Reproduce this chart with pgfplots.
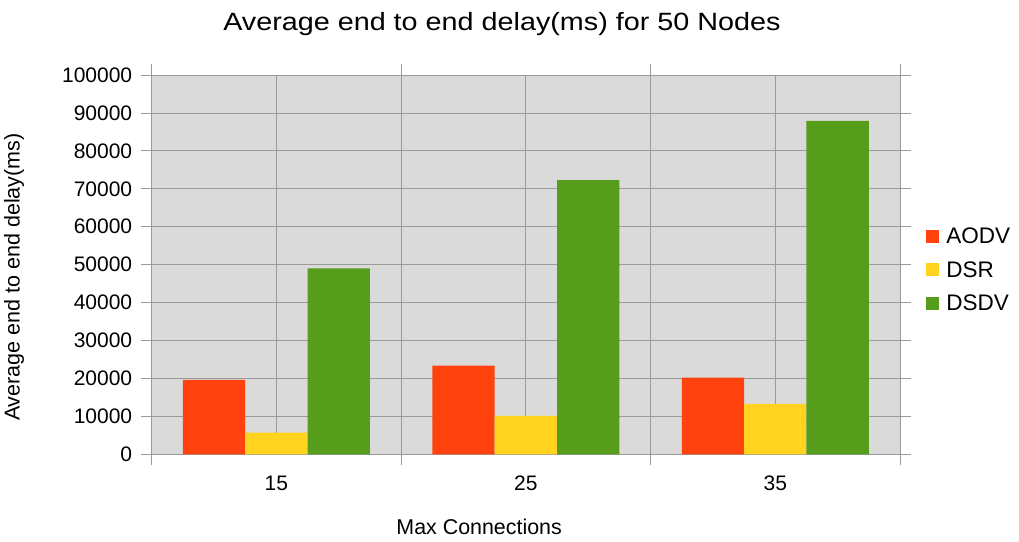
\documentclass[border=0pt]{standalone}
\usepackage{fontspec}
\setmainfont{Liberation Sans}
\newfontfamily\titlefont{Liberation Sans}[FakeStretch=1.15]
\usepackage{pgfplots}
\pgfplotsset{compat=1.18}

\definecolor{aodv}{HTML}{FF420E}
\definecolor{dsr}{HTML}{FFD320}
\definecolor{dsdv}{HTML}{579D1C}
\definecolor{plotbg}{HTML}{DADADA}
\definecolor{gridgray}{HTML}{9A9A9A}

\begin{document}
\begin{tikzpicture}
\useasboundingbox (-151.7pt,-86.7pt) rectangle (867.3pt,454.3pt);
\begin{axis}[
  at={(0pt,0pt)}, anchor=south west,
  width=748.3pt, height=379.3pt, scale only axis,
  axis background/.style={fill=plotbg},
  axis line style={gridgray},
  xmin=-0.5, xmax=2.5, ymin=0, ymax=100000,
  ybar, bar width=0.25,
  xtick={-0.5,0.5,1.5,2.5}, xticklabels={},
  extra x ticks={0,1,2}, extra x tick labels={15,25,35},
  extra x tick style={major tick length=0pt, xmajorgrids=true},
  scaled y ticks=false,
  ytick={0,10000,20000,30000,40000,50000,60000,70000,80000,90000,100000},
  yticklabels={0,10000,20000,30000,40000,50000,60000,70000,80000,90000,100000},
  xmajorgrids, ymajorgrids,
  major grid style={gridgray, line width=0.8pt},
  tick style={gridgray, line width=0.8pt},
  tick align=outside, major tick length=11pt,
  ticklabel style={font=\fontsize{21}{25}\selectfont, text=black},
  xticklabel style={yshift=-18pt},
  yticklabel style={xshift=-5pt},
  title={\titlefont\fontsize{25}{30}\selectfont Average end to end delay(ms) for 50 Nodes},
  title style={at={(axis description cs:0.468,1.119)}, anchor=center},
  xlabel={Max Connections},
  xlabel style={font=\fontsize{21.4}{25}\selectfont, at={(axis description cs:0.4376,-0.192)}, anchor=center},
  ylabel={Average end to end delay(ms)},
  ylabel style={font=\fontsize{21.5}{25}\selectfont, at={(axis description cs:-0.184,0.467)}, anchor=center},
  legend style={at={(axis description cs:1.035,0.486)}, anchor=west,
    draw=none, fill=none, inner sep=0pt, row sep=12pt,
    font=\fontsize{22.5}{26}\selectfont, cells={anchor=west},
    nodes={inner xsep=7pt}},
  legend image code/.code={\fill[#1] (0pt,-6.5pt) rectangle (13pt,6.5pt);},
]
\addplot[fill=aodv, draw=none, bar shift=-0.25] coordinates {(0,19600) (1,23400) (2,20200)};
\addplot[fill=dsr, draw=none, bar shift=0] coordinates {(0,5700) (1,10100) (2,13300)};
\addplot[fill=dsdv, draw=none, bar shift=0.25] coordinates {(0,49000) (1,72300) (2,87900)};
\legend{AODV,DSR,DSDV}
\end{axis}
\end{tikzpicture}
\end{document}
